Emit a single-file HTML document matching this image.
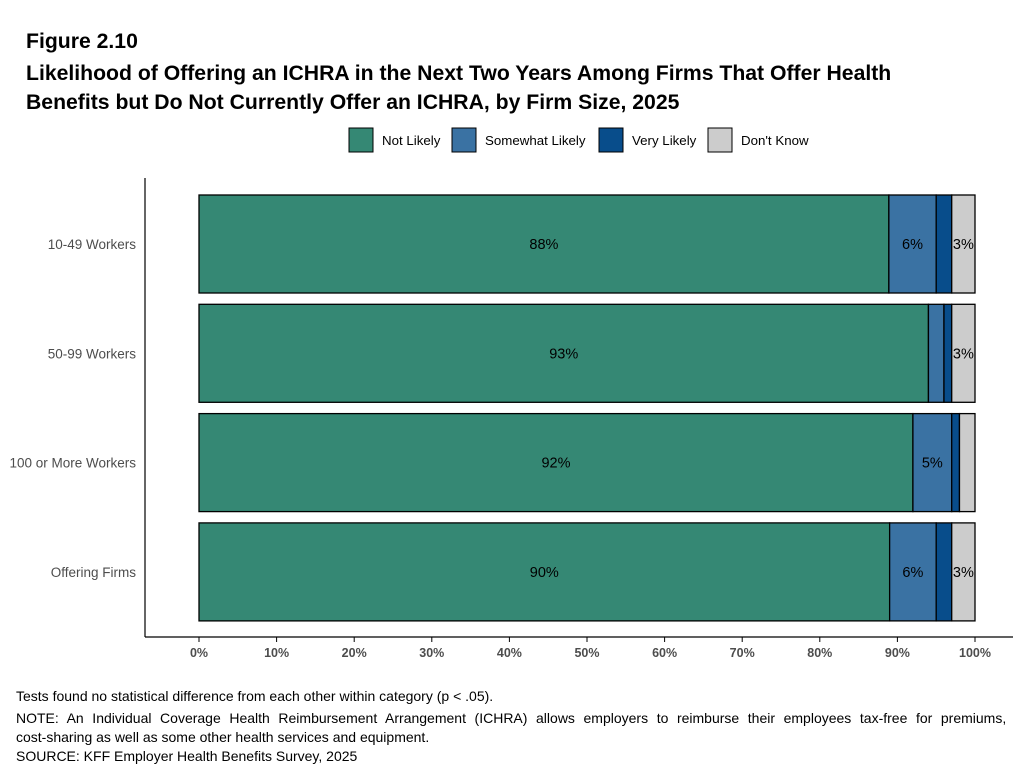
<!DOCTYPE html>
<html><head><meta charset="utf-8"><style>
body{margin:0;width:1023px;height:770px;background:#fff;font-family:"Liberation Sans",Arial,sans-serif;overflow:hidden;position:relative}
.t{position:absolute;left:26px;font-weight:bold;font-size:21.2px;color:#000}
.n{position:absolute;left:16px;font-size:14px;color:#000}
</style></head><body>
<div class="t" style="top:30px">Figure 2.10</div>
<div class="t" style="top:62px">Likelihood of Offering an ICHRA in the Next Two Years Among Firms That Offer Health</div>
<div class="t" style="top:91px">Benefits but Do Not Currently Offer an ICHRA, by Firm Size, 2025</div>
<svg id="chart" width="1023" height="680" style="position:absolute;left:0;top:0"></svg>
<div class="n" style="top:688px">Tests found no statistical difference from each other within category (p &lt; .05).</div>
<div class="n" style="top:710px;word-spacing:4.7px">NOTE: An Individual Coverage Health Reimbursement Arrangement (ICHRA) allows employers to reimburse their employees tax-free for premiums,</div>
<div class="n" style="top:729px">cost-sharing as well as some other health services and equipment.</div>
<div class="n" style="top:748px">SOURCE: KFF Employer Health Benefits Survey, 2025</div>
<script>
const categories=["10-49 Workers","50-99 Workers","100 or More Workers","Offering Firms"];
const seriesNames=["Not Likely","Somewhat Likely","Very Likely","Don't Know"];
const notLikely=[88.9,94.0,92.0,89.0];
const somewhatLikely=[6.1,2.0,5.0,6.0];
const veryLikely=[2.0,1.0,1.0,2.0];
const dontKnow=[3.0,3.0,2.0,3.0];
const labelNot=["88%","93%","92%","90%"];
const labelSome=["6%","","5%","6%"];
const labelVery=["","","",""];
const labelDK=["3%","3%","","3%"];
const ticks=[0,10,20,30,40,50,60,70,80,90,100];
const colors=["#358874","#3a72a3","#084d8b","#cccccc"];
const NS="http://www.w3.org/2000/svg";
const svg=document.getElementById('chart');
const x=v=>199+v*7.76;
const y=i=>195+i*109.3;
const bh=98;
function mk(t,a){const e=document.createElementNS(NS,t);for(const k in a)e.setAttribute(k,a[k]);svg.appendChild(e);return e;}
const lx=[349,452,599,708];
seriesNames.forEach((s,i)=>{
 const r=mk('rect',{x:lx[i],y:128,width:24,height:24,fill:colors[i],stroke:'#000','stroke-width':1});
 
 
 const t=mk('text',{x:lx[i]+33,y:145,'font-size':13.3,fill:'#000'});t.textContent=s;
 
 
});
const series=[notLikely,somewhatLikely,veryLikely,dontKnow];
const labels=[labelNot,labelSome,labelVery,labelDK];
categories.forEach((c,i)=>{
 let acc=0;
 series.forEach((s,j)=>{
  const v=s[i];
  const r=mk('rect',{x:x(acc),y:y(i),width:x(acc+v)-x(acc),height:bh,fill:colors[j],stroke:'#000','stroke-width':1.3});
  
  
  if(labels[j][i]){const t=mk('text',{x:(x(acc)+x(acc+v))/2,y:y(i)+bh/2+5,'font-size':14.5,'text-anchor':'middle',fill:'#000'});t.textContent=labels[j][i];
   
   }
  acc+=v;
 });
 const t=mk('text',{x:136,y:y(i)+bh/2+5,'font-size':13.5,'text-anchor':'end',fill:'#4d4d4d'});t.textContent=c;
 
 
});
const ax=mk('line',{x1:145,y1:178,x2:145,y2:637,stroke:'#000','stroke-width':1.2});


const bx=mk('line',{x1:145,y1:637,x2:1013,y2:637,stroke:'#000','stroke-width':1.2});


ticks.forEach(v=>{
 mk('line',{x1:x(v),y1:637,x2:x(v),y2:642,stroke:'#000','stroke-width':1});
 const t=mk('text',{x:x(v),y:657,'font-size':12.5,'font-weight':'bold','text-anchor':'middle',fill:'#4d4d4d'});t.textContent=v+'%';
 
 
});
</script>
</body></html>
